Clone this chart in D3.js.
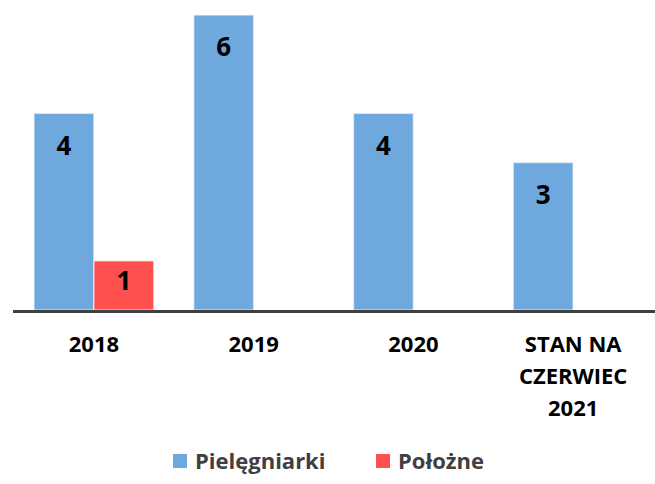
<!DOCTYPE html>
<html>
<head>
<meta charset="utf-8">
<script src="https://cdn.jsdelivr.net/npm/d3@7"></script>
<style>
  body { margin: 0; background: #fff; }
  svg { display: block; font-family: "Open Sans", sans-serif; }
</style>
</head>
<body>
<svg width="655" height="484"></svg>
<script>
var categories = [["2018"], ["2019"], ["2020"], ["STAN NA", "CZERWIEC", "2021"]];
var seriesNames = ["Pielęgniarki", "Położne"];
var pielegniarki = [4, 6, 4, 3];
var polozne = [1, null, null, null];
var colors = ["#6fa8dc", "#ff5050"];

var svg = d3.select("svg"),
    margin = {top: 15, right: 2, bottom: 174, left: 14},
    width = +svg.attr("width") - margin.left - margin.right,
    height = +svg.attr("height") - margin.top - margin.bottom,
    g = svg.append("g").attr("transform", "translate(" + margin.left + "," + margin.top + ")");

var x = d3.scaleBand()
    .domain(d3.range(categories.length))
    .range([0, width])
    .paddingInner(0.25)
    .paddingOuter(0.125);

var x1 = d3.scaleBand()
    .domain([0, 1])
    .range([0, x.bandwidth()]);

var y = d3.scaleLinear()
    .domain([0, 6])
    .range([height, 0]);

var series = [pielegniarki, polozne];

var rows = [];
series.forEach(function(vals, s) {
  vals.forEach(function(v, i) {
    if (v != null) rows.push({s: s, i: i, v: v});
  });
});

var bar = g.selectAll(".bar")
  .data(rows)
  .enter().append("g")
    .attr("class", "bar")
    .attr("transform", function(d) { return "translate(" + (x(d.i) + x1(d.s)) + ",0)"; });

bar.append("rect")
    .attr("y", function(d) { return y(d.v); })
    .attr("width", x1.bandwidth())
    .attr("height", function(d) { return height - y(d.v); })
    .attr("fill", function(d) { return colors[d.s]; })
    .attr("stroke", "#ffffff")
    .attr("stroke-opacity", 0.55)
    .attr("stroke-width", 1.5);

bar.append("text")
    .attr("x", x1.bandwidth() / 2)
    .attr("y", function(d) {
      var h = height - y(d.v);
      var off = h < 64 ? h * 0.4 : 32;
      return y(d.v) + off;
    })
    .attr("dy", "0.36em")
    .attr("text-anchor", "middle")
    .attr("font-size", 26)
    .attr("font-weight", "bold")
    .attr("fill", "#000")
    .text(function(d) { return d.v; });

// x axis
var xAxis = g.append("g")
    .attr("class", "axis axis--x")
    .attr("transform", "translate(0," + height + ")")
    .call(d3.axisBottom(x).tickSize(0).tickFormat(""));

xAxis.select(".domain")
    .attr("stroke", "#404040")
    .attr("stroke-width", 3)
    .attr("d", "M-1,1.5H" + (width + 2) + "");

xAxis.selectAll(".tick").each(function(d) {
  var t = d3.select(this).append("text")
      .attr("text-anchor", "middle")
      .attr("fill", "#000")
      .attr("font-size", 22)
      .attr("font-weight", "bold")
      .attr("font-family", "Open Sans, sans-serif");
  categories[d].forEach(function(line, k) {
    t.append("tspan")
        .attr("x", 0)
        .attr("y", 42 + k * 32)
        .text(line);
  });
});

// legend
var legend = svg.append("g").attr("transform", "translate(0,461)");
var legX = [173, 376];
seriesNames.forEach(function(name, s) {
  var lg = legend.append("g").attr("transform", "translate(" + legX[s] + ",0)");
  lg.append("rect")
      .attr("x", 0).attr("y", -7)
      .attr("width", 14).attr("height", 14)
      .attr("fill", colors[s]);
  lg.append("text")
      .attr("x", 22)
      .attr("dy", "0.36em")
      .attr("font-size", 22)
      .attr("font-weight", "bold")
      .attr("fill", "#404040")
      .text(name);
});
</script>
</body>
</html>
